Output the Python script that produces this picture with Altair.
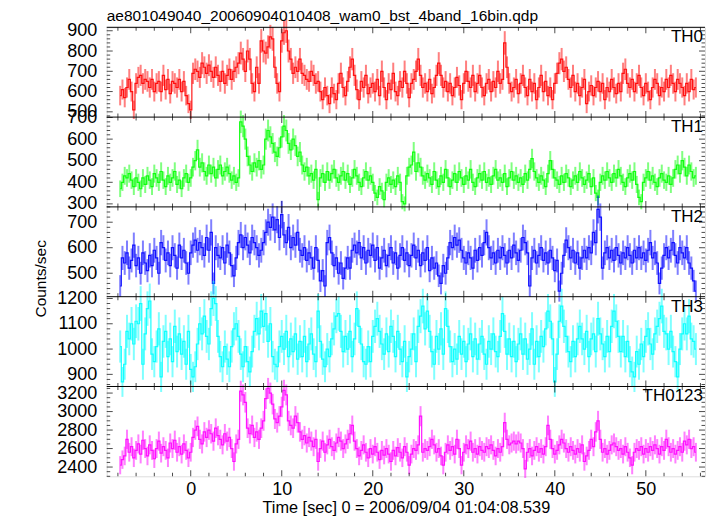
import altair as alt
import pandas as pd
import numpy as np

# ---------------- data (count rates, 0.25 s bins) ----------------
T0 = -7.75
DT = 0.25

TH0 = [
580,610,570,620, 660,600,510,640, 670,680,640,660, 650,620,660,600,
640,650,600,680, 610,660,590,650, 640,620,660,600, 650,580,540,510,
690,710,700,670, 740,720,690,730, 700,670,720,680, 650,700,640,680,
710,660,700,720, 740,790,760,700, 800,760,640,600, 720,640,850,800,
790,820,870,860, 720,640,600,850, 890,900,800,760, 690,720,700,760,
690,680,660,650, 700,680,640,650, 600,560,620,580, 540,620,590,560,
640,690,620,580, 650,720,760,680, 610,560,650,620, 680,590,620,640,
600,660,580,700, 620,560,640,610, 690,600,580,650, 620,700,640,570,
640,660,700,760, 680,620,640,600, 660,590,620,680, 740,680,620,650,
600,640,580,620, 670,630,560,640, 700,650,620,680, 600,640,680,620,
580,640,660,600, 650,620,700,640, 660,840,720,640, 600,620,660,590,
640,680,620,580, 660,600,640,560, 620,680,600,650, 580,620,560,640,
690,740,760,700, 720,660,620,680, 600,640,580,620, 660,540,600,630,
580,620,650,600, 640,560,620,600, 660,620,590,640, 600,690,710,640,
620,660,600,640, 680,620,580,640, 600,560,620,660, 640,580,620,600,
660,620,680,640, 600,660,640,620, 580,640,600,660, 610,620]

TH1 = [
370,400,430,420, 440,410,380,420, 400,370,420,390, 430,410,380,440,
420,400,450,410, 380,430,400,420, 450,390,410,370, 420,440,400,420,
470,500,550,470, 490,450,430,480, 440,470,420,460, 480,430,450,470,
440,410,430,400, 420,680,660,600, 520,480,450,490, 470,500,460,480,
600,640,610,580, 540,520,560,610, 660,640,580,550, 600,570,520,540,
480,450,470,430, 440,410,460,320, 420,440,400,450, 410,440,460,420,
400,430,450,410, 440,390,420,460, 430,400,380,420, 450,410,430,400,
350,330,380,360, 320,400,420,390, 410,380,430,400, 310,300,430,470,
480,540,450,490, 470,430,410,440, 420,390,450,410, 380,430,400,460,
420,380,410,440, 400,450,420,390, 430,410,460,400, 380,420,440,410,
450,400,420,390, 430,460,410,420, 400,440,380,420, 450,410,430,400,
420,390,440,410, 460,510,450,420, 400,430,410,380, 440,500,460,420,
410,390,430,400, 440,420,380,410, 430,400,450,420, 390,410,440,380,
420,350,330,400, 430,410,450,420, 400,440,420,460, 430,400,380,420,
440,410,450,390, 330,310,400,420, 450,410,430,400, 380,420,440,410,
400,430,390,420, 460,480,440,500, 470,430,480,450, 420,430]

TH2 = [
450,560,540,580, 520,550,610,530, 560,500,580,540, 510,570,530,590,
560,500,620,600, 550,580,530,600, 570,520,610,560, 590,540,500,580,
610,630,590,620, 600,570,640,590, 660,460,600,570, 560,600,540,610,
580,530,490,560, 620,650,600,640, 610,580,640,620, 600,570,590,620,
660,700,680,720, 670,710,640,730, 650,620,680,600, 640,610,660,590,
570,600,550,580, 560,520,600,550, 470,510,450,620, 640,580,530,560,
500,540,480,520, 560,520,590,610, 580,620,560,600, 540,590,570,610,
550,600,520,560, 590,530,570,600, 540,580,520,570, 600,550,580,530,
570,610,560,590, 530,580,550,600, 510,560,520,540, 490,460,530,500,
560,620,600,640, 610,630,590,560, 540,580,560,520, 590,550,600,570,
620,660,600,560, 580,540,590,560, 600,570,540,590, 560,610,580,550,
590,640,620,580, 450,560,590,540, 570,600,550,580, 540,590,560,510,
550,430,500,570, 630,600,560,590, 540,580,520,560, 590,560,600,580,
660,620,750,720, 520,580,600,560, 590,550,600,570, 540,580,560,600,
570,540,590,560, 600,560,580,550, 590,620,560,580, 540,460,520,570,
600,560,590,620, 570,540,600,580, 560,600,540,520, 470,430]

TH3 = [
1010,870,940,1070, 1040,1100,1020,1110, 1100,1180,940,1060, 1160,1190,980,950,
1010,1080,890,1030, 1070,970,1040,950, 1090,990,1060,980, 1030,940,1070,920,
890,930,1020,1100, 1060,1130,1050,1020, 1160,1200,1180,1050, 970,930,1010,960,
930,1010,1080,1100, 1050,980,930,1010, 950,910,990,1070, 1120,1060,1150,1090,
1140,1030,1100,970, 940,930,1010,1050, 1000,1070,970,1040, 990,1060,960,1030,
970,1050,950,1020, 1060,980,950,1150, 1030,960,930,1000, 970,1040,1080,1130,
1140,1070,990,1050, 1000,1070,970,1040, 1160,1090,1020,950, 940,1010,950,1050,
1090,1120,1070,1020, 980,1060,990,1090, 1050,970,1070,1000, 950,1030,890,970,
1000,1060,950,1090, 1130,1170,1080,1150, 1070,990,940,1050, 1000,1080,980,1160,
1090,1010,950,1000, 960,1050,980,1030, 950,1020,1060,970, 1040,960,1020,1050,
980,940,1030,1000, 1060,990,970,1050, 1140,1070,980,1040, 970,1030,950,1020,
1060,980,1040,960, 1000,1080,940,1030, 970,1050,1010,1080, 1150,1110,1040,870,
980,1110,1170,1090, 1050,990,950,1030, 970,1040,1090,1040, 1000,1070,970,1040,
1060,990,1120,1060, 1020,970,1050,990, 1090,1150,1110,1050, 990,1050,970,1030,
950,910,890,990, 940,1020,970,1050, 1080,1020,980,1060, 1090,1120,1170,1070,
1060,1000,1070,990, 950,890,1000,1060, 1100,1060,1130,1040, 1030,1000]

TH0123 = [
2420,2480,2520,2700, 2560,2620,2500,2580, 2650,2540,2690,2600, 2520,2640,2580,2490,
2600,2680,2550,2620, 2580,2500,2660,2600, 2690,2560,2620,2540, 2650,2580,2500,2560,
2720,2800,2840,2700, 2650,2780,2720,2800, 2760,2680,2820,2740, 2700,2640,2760,2680,
2720,2600,2460,2650, 2700,3220,3180,3100, 2820,2760,2850,2720, 2780,2700,2820,2900,
3140,3250,3200,3080, 2920,2880,2950,3050, 3230,3180,2900,2850, 2820,2950,2880,2780,
2700,2740,2660,2720, 2680,2620,2700,2460, 2600,2680,2560,2640, 2700,2620,2580,2660,
2720,2680,2600,2650, 2700,2760,2850,2680, 2600,2520,2580,2640, 2560,2500,2600,2540,
2620,2560,2480,2580, 2530,2600,2540,2460, 2580,2520,2610,2560, 2500,2620,2560,2420,
2540,2600,2580,2640, 2950,2560,2600,2580, 2620,2700,2640,2560, 2600,2520,2420,2560,
2640,2580,2620,2540, 2700,2600,2420,2560, 2640,2600,2680,2560, 2600,2540,2620,2580,
2560,2620,2600,2640, 2580,2520,2600,2560, 2620,2880,2700,2640, 2660,2680,2650,2680,
2660,2600,2380,2560, 2600,2520,2580,2620, 2560,2600,2540,2620, 2850,2700,2600,2540,
2580,2640,2700,2660, 2600,2560,2620,2580, 2540,2600,2560,2640, 2460,2520,2580,2700,
2620,2780,2900,2700, 2560,2600,2540,2580, 2640,2660,2620,2580, 2600,2540,2620,2560,
2500,2420,2560,2600, 2580,2620,2540,2600, 2560,2620,2580,2640, 2600,2540,2620,2580,
2700,2620,2560,2600, 2540,2580,2620,2560, 2680,2640,2700,2600, 2620,2560]

NAMES = ["TH0", "TH1", "TH2", "TH3", "TH0123"]
SERIES = [TH0, TH1, TH2, TH3, TH0123]
COLORS = ["#ff0000", "#00ff00", "#0000ff", "#00ffff", "#ff00ff"]
Y_DOMAINS = [[474, 917], [286, 702], [408, 760], [852, 1207], [2300, 3271]]
Y_MAJOR = [[500, 600, 700, 800, 900], [300, 400, 500, 600, 700], [500, 600, 700],
           [900, 1000, 1100, 1200], [2400, 2600, 2800, 3000, 3200]]
Y_MINOR_STEP = [20, 20, 20, 20, 50]

TITLE = "ae801049040_20060904010408_wam0_bst_4band_16bin.qdp"
XTITLE = "Time [sec] 0 = 2006/09/04 01:04:08.539"
YTITLE = "Counts/sec"
X_DOMAIN = [-9.23, 56.5]
X_LABELS = [0, 10, 20, 30, 40, 50]
X_MINOR = [v for v in range(-8, 57, 2) if v % 10 != 0]

# ---------------- layout ----------------
FONT = "Liberation Sans"
W = 598.3
H = 449.0
PH = H / 5
MAJ = 6
MIN = 3.5

XS = alt.Scale(domain=X_DOMAIN, nice=False, zero=False)
XAXIS = alt.Axis(values=X_LABELS, ticks=False, tickSize=0, domain=False, grid=False,
                 labelFont=FONT, labelFontSize=18, labelPadding=4, labelColor="black",
                 labelFlush=False, labelOverlap=False,
                 title=XTITLE, titleFont=FONT, titleFontSize=16.3, titleFontWeight="normal",
                 titleColor="black", titleY=36, titleBaseline="alphabetic")


def panel(k):
    name, vals, color = NAMES[k], SERIES[k], COLORS[k]
    dom = Y_DOMAINS[k]
    ys = alt.Scale(domain=dom, range=[PH * (k + 1), PH * k], nice=False, zero=False)
    ax_kw = dict(orient="left", values=Y_MAJOR[k], ticks=False, tickSize=0, domain=False,
                 grid=False, labelFont=FONT, labelFontSize=18, labelColor="black",
                 labelPadding=10, labelOverlap=False, labelFlush=False, labelBound=False,
                 format="d", offset=0)
    if k == 2:
        yaxis = alt.Axis(title=YTITLE, titleFont=FONT, titleFontSize=15.5,
                         titleFontWeight="normal", titleColor="black",
                         titleX=-66.5, titleY=251, titleAngle=270,
                         titleAlign="center", titleBaseline="middle", **ax_kw)
    else:
        yaxis = alt.Axis(title=None, **ax_kw)

    def X(f):
        return alt.X(f, type="quantitative", scale=XS, axis=XAXIS)

    def Y(f):
        return alt.Y(f, type="quantitative", scale=ys, axis=yaxis)

    df = pd.DataFrame({"t": [T0 + DT * i for i in range(len(vals))], "v": vals})
    err = np.sqrt(df["v"] * DT) / DT          # Poisson error of the rate
    df["lo"] = df["v"] - err
    df["hi"] = df["v"] + err

    bars = alt.Chart(df).mark_rule(color=color, opacity=0.5, strokeWidth=2).encode(
        x=X("t"), y=Y("lo"), y2="hi")
    line = alt.Chart(df).mark_line(interpolate="step", color=color, strokeWidth=1.2,
                                   opacity=0.9).encode(x=X("t"), y=Y("v"))

    layers = [bars, line]

    # panel frame line (top edge)
    top_df = pd.DataFrame({"y": [dom[1]]})
    layers.append(alt.Chart(top_df).mark_rule(color="black", strokeWidth=1).encode(y=Y("y")))

    # inward ticks on top / bottom edges
    def xt(vals_, size, ypos, off):
        d = pd.DataFrame({"t": vals_, "y": [ypos] * len(vals_)})
        return alt.Chart(d).mark_tick(orient="vertical", size=size, thickness=1,
                                      color="black", yOffset=off).encode(x=X("t"), y=Y("y"))

    layers += [xt(X_LABELS, MAJ, dom[1], MAJ / 2), xt(X_MINOR, MIN, dom[1], MIN / 2),
               xt(X_LABELS, MAJ, dom[0], -MAJ / 2), xt(X_MINOR, MIN, dom[0], -MIN / 2)]

    # inward ticks on left / right edges
    step = Y_MINOR_STEP[k]
    start = int(np.ceil(dom[0] / step) * step)
    minor = [v for v in range(start, int(dom[1]) + 1, step) if v not in Y_MAJOR[k]]

    def ytk(vals_, size, xpos, off):
        d = pd.DataFrame({"t": [xpos] * len(vals_), "y": vals_})
        return alt.Chart(d).mark_tick(orient="horizontal", size=size, thickness=1,
                                      color="black", xOffset=off).encode(x=X("t"), y=Y("y"))

    layers += [ytk(Y_MAJOR[k], MAJ, X_DOMAIN[0], MAJ / 2), ytk(minor, MIN, X_DOMAIN[0], MIN / 2),
               ytk(Y_MAJOR[k], MAJ, X_DOMAIN[1], -MAJ / 2), ytk(minor, MIN, X_DOMAIN[1], -MIN / 2)]

    # band label
    lab = pd.DataFrame({"t": [X_DOMAIN[1]], "y": [dom[1]], "name": [name]})
    layers.append(alt.Chart(lab).mark_text(align="right", baseline="top", dx=-2, dy=2,
                                           font=FONT, fontSize=17, color="black").encode(
        x=X("t"), y=Y("y"), text="name:N"))
    return alt.layer(*layers)


chart = alt.layer(*[panel(k) for k in range(5)]).resolve_scale(y="independent").properties(
    width=W, height=H,
    title=alt.TitleParams(TITLE, anchor="start", frame="group", font=FONT, fontSize=15.5,
                          fontWeight="normal", color="black", offset=5, dy=12),
    padding={"left": 98.7, "top": 19.3, "right": 2, "bottom": 40},
    autosize=alt.AutoSizeParams(type="none"),
).configure_view(stroke="black", strokeWidth=1).configure(background="white")

chart.save("out.html", embed_options={"renderer": "svg", "actions": False})
